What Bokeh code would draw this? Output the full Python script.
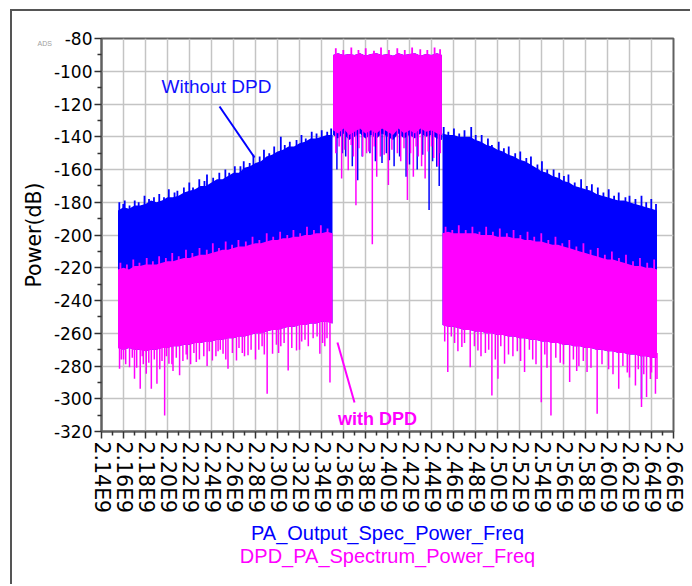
import numpy as np
from bokeh.plotting import figure
from bokeh.models import FixedTicker, PrintfTickFormatter, Label, Title
from bokeh.embed import file_html
from bokeh.resources import INLINE

# ---------------- data (frequency in GHz, power in dB) ----------------
freq_ticks = [2.14, 2.16, 2.18, 2.20, 2.22, 2.24, 2.26, 2.28, 2.30, 2.32, 2.34, 2.36, 2.38,
              2.40, 2.42, 2.44, 2.46, 2.48, 2.50, 2.52, 2.54, 2.56, 2.58, 2.60, 2.62, 2.64, 2.66]
power_ticks = [-320, -300, -280, -260, -240, -220, -200, -180, -160, -140, -120, -100, -80]

# lower adjacent channel: upper / lower edges of the dense noise floor
f_lo = [2.155, 2.160, 2.165, 2.170, 2.175, 2.180, 2.185, 2.190, 2.195, 2.200,
        2.205, 2.210, 2.215, 2.220, 2.225, 2.230, 2.235, 2.240, 2.245, 2.250,
        2.255, 2.260, 2.265, 2.270, 2.275, 2.280, 2.285, 2.290, 2.295, 2.300,
        2.305, 2.310, 2.315, 2.320, 2.325, 2.330, 2.335, 2.340, 2.345, 2.350]
pa_top_lo = [-185, -183, -184, -182, -182, -181, -179, -180, -179, -177,
             -177, -176, -174, -173, -172, -170, -170, -168, -166, -166,
             -164, -162, -162, -159, -158, -156, -155, -152, -151, -149,
             -148, -146, -146, -144, -143, -141, -141, -140, -139, -139]
dpd_top_lo = [-221, -220, -221, -219, -219, -218, -218, -218, -217, -216,
              -216, -215, -214, -214, -213, -212, -212, -211, -210, -209,
              -209, -208, -207, -207, -206, -205, -205, -204, -203, -203,
              -202, -202, -201, -201, -200, -200, -199, -199, -198, -199]
dpd_floor_lo = [-269, -270, -269, -270, -270, -271, -270, -270, -269, -269,
                -268, -268, -267, -267, -266, -266, -265, -265, -264, -264,
                -263, -263, -262, -262, -261, -260, -260, -259, -258, -258,
                -257, -256, -256, -255, -255, -254, -254, -253, -253, -254]

# occupied channel
f_band = [2.3505, 2.355, 2.360, 2.365, 2.370, 2.375, 2.380, 2.385, 2.390, 2.395, 2.400,
          2.405, 2.410, 2.415, 2.420, 2.425, 2.430, 2.435, 2.440, 2.445, 2.4495]
band_top = [-90, -89, -90, -89.5, -90, -89, -90.5, -89.5, -89, -90, -89.5,
            -90.5, -89, -90, -89.5, -89, -90.5, -89.5, -90, -89, -90]
dpd_band_floor = [-136, -138, -135, -139, -137, -135, -138, -136, -138, -135, -137,
                  -139, -135, -138, -136, -138, -135, -137, -136, -138, -139]
pa_band_floor = [-139, -141, -138, -142, -140, -138, -141, -139, -141, -138, -140,
                 -142, -138, -141, -139, -141, -138, -140, -139, -141, -142]

# upper adjacent channel
f_hi = [2.450, 2.455, 2.460, 2.465, 2.470, 2.475, 2.480, 2.485, 2.490, 2.495,
        2.500, 2.505, 2.510, 2.515, 2.520, 2.525, 2.530, 2.535, 2.540, 2.545,
        2.550, 2.555, 2.560, 2.565, 2.570, 2.575, 2.580, 2.585, 2.590, 2.595,
        2.600, 2.605, 2.610, 2.615, 2.620, 2.625, 2.630, 2.635, 2.640, 2.645]
pa_top_hi = [-138, -139, -139, -140, -140, -140, -142, -143, -145, -146,
             -148, -149, -151, -152, -154, -155, -157, -159, -161, -162,
             -164, -165, -167, -168, -170, -171, -172, -173, -175, -176,
             -177, -178, -179, -179, -180, -181, -182, -183, -184, -185]
dpd_top_hi = [-199, -198, -199, -199, -199, -199, -199, -200, -200, -200,
              -201, -201, -201, -202, -202, -203, -203, -204, -204, -205,
              -206, -206, -207, -208, -209, -210, -211, -212, -213, -214,
              -215, -215, -216, -217, -218, -219, -219, -220, -220, -221]
dpd_floor_hi = [-255, -256, -256, -257, -258, -258, -259, -259, -260, -260,
                -261, -261, -262, -262, -263, -263, -264, -264, -265, -265,
                -266, -266, -267, -267, -268, -268, -269, -269, -270, -270,
                -271, -271, -272, -272, -273, -273, -274, -274, -275, -275]

# isolated peaks rising above the noise edges
pa_peak_f = [2.1562, 2.1598, 2.1611, 2.1655, 2.1702, 2.1738, 2.1791, 2.1832, 2.1877, 2.1925,
             2.1968, 2.2012, 2.2064, 2.2090, 2.2149, 2.2198, 2.2232, 2.2289, 2.2336, 2.2359,
             2.2415, 2.2471, 2.2526, 2.2561, 2.2612, 2.2663, 2.2693, 2.2747, 2.2781, 2.2838,
             2.2877, 2.2925, 2.2970, 2.3030, 2.3066, 2.3112, 2.3173, 2.3218, 2.3257, 2.3311,
             2.3355, 2.3402, 2.3452, 2.3488,
             2.4511, 2.4553, 2.4604, 2.4652, 2.4700, 2.4761, 2.4802, 2.4856, 2.4913, 2.4949,
             2.5011, 2.5058, 2.5102, 2.5161, 2.5207, 2.5262, 2.5304, 2.5363, 2.5404, 2.5452,
             2.5510, 2.5561, 2.5604, 2.5645, 2.5702, 2.5760, 2.5812, 2.5858, 2.5912, 2.5963,
             2.6011, 2.6060, 2.6102, 2.6163, 2.6200, 2.6254, 2.6309, 2.6352, 2.6398, 2.6441]
pa_peak_db = [-180, -181, -179, -182, -179, -180, -176, -178, -177, -175,
              -177, -172, -174, -173, -171, -168, -171, -166, -167, -163,
              -165, -162, -160, -162, -158, -158, -155, -156, -151, -152,
              -148, -150, -146, -140, -145, -143, -142, -139, -141, -137,
              -138, -136, -137, -135,
              -134, -137, -135, -138, -136, -134, -139, -139, -141, -145,
              -143, -147, -146, -150, -149, -153, -152, -157, -155, -160,
              -160, -162, -164, -163, -168, -166, -170, -169, -171, -174,
              -172, -176, -174, -177, -176, -178, -176, -180, -178, -181]
dpd_peak_f = [2.1572, 2.1631, 2.1689, 2.1745, 2.1811, 2.1867, 2.1924, 2.1985, 2.2043, 2.2102,
              2.2168, 2.2226, 2.2291, 2.2357, 2.2412, 2.2468, 2.2529, 2.2587, 2.2645, 2.2712,
              2.2773, 2.2835, 2.2902, 2.2961, 2.3024, 2.3089, 2.3145, 2.3206, 2.3268, 2.3331,
              2.3394, 2.3455,
              2.3530, 2.3598, 2.3671, 2.3736, 2.3802, 2.3877, 2.3941, 2.4013, 2.4089, 2.4157,
              2.4224, 2.4298, 2.4362, 2.4428, 2.4478,
              2.4528, 2.4589, 2.4648, 2.4711, 2.4772, 2.4836, 2.4897, 2.4958, 2.5021, 2.5085,
              2.5146, 2.5208, 2.5273, 2.5334, 2.5398, 2.5462, 2.5527, 2.5589, 2.5653, 2.5717,
              2.5781, 2.5846, 2.5912, 2.5976, 2.6040, 2.6104, 2.6168, 2.6232, 2.6295, 2.6361,
              2.6424]
dpd_peak_db = [-217, -218, -215, -217, -214, -216, -213, -214, -211, -213,
               -209, -211, -208, -209, -205, -208, -204, -206, -203, -204,
               -201, -203, -199, -201, -198, -200, -197, -199, -195, -197,
               -194, -196,
               -86, -87, -85.5, -87, -86, -87.5, -85.5, -87, -86, -87,
               -85.5, -86.5, -87, -85.5, -86.5,
               -195, -197, -194, -197, -195, -198, -195, -198, -196, -199,
               -197, -200, -198, -201, -199, -203, -201, -205, -203, -207,
               -205, -209, -208, -212, -210, -214, -212, -216, -214, -217,
               -215]

# notches reaching below the noise floors
dpd_dip_f = [2.1564, 2.1580, 2.1600, 2.1620, 2.1655, 2.1680, 2.1700, 2.1720, 2.1752, 2.1770,
             2.1780, 2.1807, 2.1830, 2.1853, 2.1880, 2.1904, 2.1930, 2.1950, 2.1974, 2.1990,
             2.2013, 2.2040, 2.2050, 2.2080, 2.2110, 2.2140, 2.2170, 2.2180, 2.2210, 2.2240,
             2.2262, 2.2290, 2.2330, 2.2360, 2.2380, 2.2408, 2.2440, 2.2460, 2.2480, 2.2505,
             2.2530, 2.2550, 2.2590, 2.2627, 2.2650, 2.2680, 2.2700, 2.2732, 2.2760, 2.2800,
             2.2830, 2.2860, 2.2880, 2.2906, 2.2955, 2.2990, 2.3010, 2.3030, 2.3060, 2.3097,
             2.3130, 2.3173, 2.3200, 2.3220, 2.3250, 2.3280, 2.3324, 2.3360, 2.3385, 2.3410,
             2.3430, 2.3450, 2.3477,
             2.3530, 2.3560, 2.3583, 2.3610, 2.3643, 2.3670, 2.3690, 2.3713, 2.3740, 2.3775,
             2.3810, 2.3830, 2.3862, 2.3880, 2.3902, 2.3935, 2.3970, 2.4008, 2.4040, 2.4090,
             2.4120, 2.4150, 2.4181, 2.4210, 2.4235, 2.4260, 2.4280, 2.4310, 2.4342, 2.4370,
             2.4400, 2.4420, 2.4462, 2.4480,
             2.4520, 2.4548, 2.4580, 2.4610, 2.4640, 2.4676, 2.4700, 2.4752, 2.4790, 2.4822,
             2.4850, 2.4890, 2.4920, 2.4949, 2.4980, 2.5004, 2.5030, 2.5064, 2.5100, 2.5140,
             2.5180, 2.5210, 2.5246, 2.5290, 2.5320, 2.5350, 2.5398, 2.5430, 2.5450, 2.5486,
             2.5530, 2.5570, 2.5600, 2.5656, 2.5690, 2.5720, 2.5740, 2.5780, 2.5814, 2.5850,
             2.5906, 2.5950, 2.6010, 2.6050, 2.6102, 2.6140, 2.6180, 2.6200, 2.6254, 2.6280,
             2.6309, 2.6330, 2.6355, 2.6390, 2.6400, 2.6436, 2.6450]
dpd_dip_db = [-281.7, -276, -276, -279, -280.7, -275, -287.8, -281, -293.9, -274,
              -279, -284.7, -278, -293.9, -276, -290.8, -282, -277, -310.2, -274,
              -278.6, -279, -283, -275, -285.7, -277, -273, -276, -279, -272,
              -277.6, -276, -274, -280, -271, -276.6, -274, -271, -270, -272.5,
              -276, -281.7, -272, -276.6, -269, -272, -274, -273.5, -270, -276,
              -270, -268, -273, -297.0, -272.5, -267, -272, -268, -266, -282.7,
              -269, -270.5, -270, -265, -264, -268, -263, -262, -272.5, -266,
              -268, -263, -290,
              -150, -146, -165.5, -148, -160.4, -145, -152, -181.8, -147, -152,
              -150, -149, -205.6, -146, -164.5, -152, -151, -169.5, -148, -150,
              -155, -147, -178.7, -150, -164.5, -146, -152, -158, -165.5, -149,
              -146, -153, -158, -150,
              -265, -283.7, -262, -266, -271, -268.4, -266, -280.7, -268, -270.5,
              -274, -272, -270, -298, -276, -287.8, -268, -278.6, -273, -274,
              -271, -277, -283.7, -270, -276, -279, -302.1, -273, -281, -310.2,
              -275, -278, -279, -289.8, -276, -283, -280, -277, -283.7, -281,
              -309.2, -279, -282, -285, -293.9, -280, -284, -287, -291.9, -282,
              -305.1, -285, -299, -288, -284, -296.9, -288]

pa_dip_f = [2.1949, 2.3540, 2.3590, 2.3620, 2.3680, 2.3729, 2.3770, 2.3840, 2.3890, 2.3950,
            2.3990, 2.4017, 2.4060, 2.4110, 2.4169, 2.4200, 2.4270, 2.4320, 2.4378, 2.4410,
            2.4448, 2.4470, 2.6309]
pa_dip_db = [-268.4, -160, -150, -152, -158, -166.5, -152, -150, -155, -156,
             -150, -154.3, -158, -152, -164.5, -157, -160, -151, -184.8, -155,
             -158.3, -170, -300]

BLUE = "#0000ff"
MAGENTA = "#ff00ff"

p = figure(width=680, height=575, output_backend="svg", toolbar_location=None,
           x_range=(2.14, 2.66), y_range=(-320, -80),
           min_border_left=89, min_border_right=19, min_border_top=27, min_border_bottom=155,
           background_fill_color="white", border_fill_color="white")
p.title.visible = False
p.styles = {"margin-left": "10px", "margin-top": "9px",
            "border-left": "2px solid #555555", "border-top": "2px solid #555555"}

# ---------------- axes & grid ----------------
minor_f = [round((a + b) / 2, 3) for a, b in zip(freq_ticks[:-1], freq_ticks[1:])]
minor_p = [a + 10 for a in power_ticks[:-1]]
p.xaxis.ticker = FixedTicker(ticks=freq_ticks, minor_ticks=minor_f)
p.yaxis.ticker = FixedTicker(ticks=power_ticks, minor_ticks=minor_p)
p.xaxis.formatter = PrintfTickFormatter(format="%.2fE9")
p.yaxis.formatter = PrintfTickFormatter(format="%d")
p.xaxis.major_label_orientation = -np.pi / 2

for ax in (p.xaxis, p.yaxis):
    ax.axis_line_color = "#606060"
    ax.axis_line_width = 2
    ax.major_tick_in = 0
    ax.major_tick_out = 7
    ax.minor_tick_in = 0
    ax.minor_tick_out = 4
    ax.major_tick_line_color = "#333333"
    ax.minor_tick_line_color = "#333333"
    ax.major_tick_line_width = 1.5
    ax.minor_tick_line_width = 1.5
    ax.major_label_text_font = "DejaVu Sans"
    ax.major_label_text_color = "#000000"

p.xaxis.major_label_text_font_size = "20.5px"
p.xaxis.major_label_standoff = 3
p.yaxis.major_label_text_font_size = "17px"
p.yaxis.major_label_standoff = 2
p.yaxis.axis_label = "Power(dB)"
p.yaxis.axis_label_text_font = "DejaVu Sans"
p.yaxis.axis_label_text_font_size = "20.5px"
p.yaxis.axis_label_text_font_style = "normal"
p.yaxis.axis_label_text_color = "#000000"
p.yaxis.axis_label_standoff = 5

p.xgrid.grid_line_color = "#c4c4c4"
p.ygrid.grid_line_color = "#c4c4c4"
p.xgrid.grid_line_width = 1.5
p.ygrid.grid_line_width = 1.5
p.outline_line_color = "#606060"
p.outline_line_width = 2

# ---------------- spectra ----------------
f_all = f_lo + f_band + f_hi
dpd_floor_all = dpd_floor_lo + dpd_band_floor + dpd_floor_hi
pa_floor_all = dpd_floor_lo + pa_band_floor + dpd_floor_hi
pa_top_all = pa_top_lo + band_top + pa_top_hi
dpd_top_all = dpd_top_lo + band_top + dpd_top_hi

# PA output without DPD (drawn first, partly hidden by the DPD trace)
p.varea(x=f_lo, y1=dpd_floor_lo, y2=pa_top_lo, fill_color=BLUE)
p.varea(x=f_band, y1=pa_band_floor, y2=band_top, fill_color=BLUE)
p.varea(x=f_hi, y1=dpd_floor_hi, y2=pa_top_hi, fill_color=BLUE)
pa_peak_base = np.interp(pa_peak_f, f_all, pa_top_all) - 3
p.segment(x0=pa_peak_f, y0=pa_peak_base, x1=pa_peak_f, y1=pa_peak_db, line_color=BLUE, line_width=1.8)
pa_dip_base = np.interp(pa_dip_f, f_all, pa_floor_all) + 3
p.segment(x0=pa_dip_f, y0=pa_dip_base, x1=pa_dip_f, y1=pa_dip_db, line_color=BLUE, line_width=1.5)

# PA output with DPD
p.varea(x=f_lo, y1=dpd_floor_lo, y2=dpd_top_lo, fill_color=MAGENTA)
p.varea(x=f_band, y1=dpd_band_floor, y2=band_top, fill_color=MAGENTA)
p.varea(x=f_hi, y1=dpd_floor_hi, y2=dpd_top_hi, fill_color=MAGENTA)
dpd_peak_base = np.interp(dpd_peak_f, f_all, dpd_top_all) - 3
p.segment(x0=dpd_peak_f, y0=dpd_peak_base, x1=dpd_peak_f, y1=dpd_peak_db, line_color=MAGENTA, line_width=1.8)
dpd_dip_base = np.interp(dpd_dip_f, f_all, dpd_floor_all) + 3
p.segment(x0=dpd_dip_f, y0=dpd_dip_base, x1=dpd_dip_f, y1=dpd_dip_db, line_color=MAGENTA, line_width=1.5)

# ---------------- annotations ----------------
p.line(x=[2.2473, 2.2791], y=[-121.5, -152.7], line_color=BLUE, line_width=2)
p.add_layout(Label(x=2.2445, y=-109.6, text="Without DPD", text_align="center",
                   text_baseline="middle", text_font="Liberation Sans",
                   text_font_size="19px", text_color="#1010ff"))
p.line(x=[2.3545, 2.3700], y=[-265.6, -302.3], line_color=MAGENTA, line_width=2)
p.add_layout(Label(x=2.3909, y=-312.1, text="with DPD", text_align="center",
                   text_baseline="alphabetic", text_font="Liberation Sans",
                   text_font_size="18px", text_font_style="bold", text_color=MAGENTA))

# trace names under the axis
p.add_layout(Title(text="PA_Output_Spec_Power_Freq", align="center", standoff=6,
                   text_font="Liberation Sans", text_font_size="20px",
                   text_font_style="normal", text_color=BLUE), "below")
p.add_layout(Title(text="DPD_PA_Spectrum_Power_Freq", align="center", standoff=-7,
                   text_font="Liberation Sans", text_font_size="20px",
                   text_font_style="normal", text_color=MAGENTA), "below")

# small tool tag in the corner
p.add_layout(Title(text="ADS", align="left", offset=-64, standoff=-17,
                   text_font="Liberation Sans", text_font_size="7px",
                   text_font_style="normal", text_color="#a0a0a0"), "above")

open("out.html", "w").write(file_html(p, INLINE))
